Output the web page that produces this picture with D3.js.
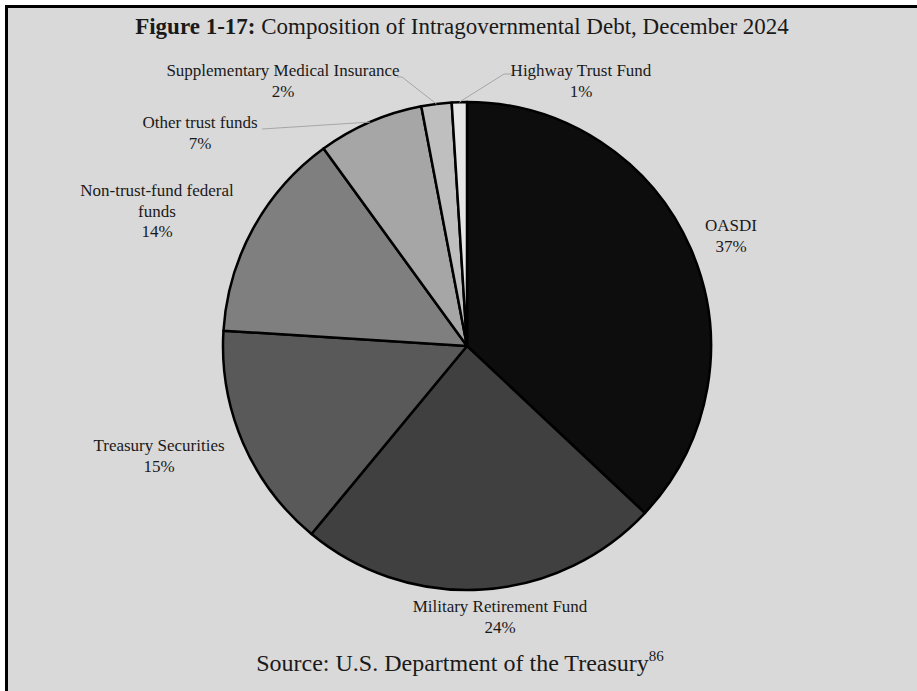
<!DOCTYPE html>
<html>
<head>
<meta charset="utf-8">
<script src="https://cdn.jsdelivr.net/npm/d3@7"></script>
<style>
  html, body { margin: 0; padding: 0; background: #ffffff; }
  svg { display: block; }
  text { font-family: "Liberation Serif", "Times New Roman", serif; fill: #1a1a1a; }
</style>
</head>
<body>
<svg id="chart" width="917" height="691"></svg>
<script>
// Shares of intragovernmental debt, in percent, in clockwise order from 12 o'clock
const categories = [
  "OASDI",
  "Military Retirement Fund",
  "Treasury Securities",
  "Non-trust-fund federal funds",
  "Other trust funds",
  "Supplementary Medical Insurance",
  "Highway Trust Fund"
];
const shares = [37, 24, 15, 14, 7, 2, 1];
const sliceColors = ["#0d0d0d", "#404040", "#595959", "#7f7f7f", "#a6a6a6", "#bfbfbf", "#e6e6e6"];

// Label text broken into lines, and where each label block sits
const labelLines = [
  ["OASDI"],
  ["Military Retirement Fund"],
  ["Treasury Securities"],
  ["Non-trust-fund federal", "funds"],
  ["Other trust funds"],
  ["Supplementary Medical Insurance"],
  ["Highway Trust Fund"]
];
const labelPos = [
  [731, 231], [500, 612], [159, 451], [157, 196], [200, 128], [283, 76], [581, 76]
];
// Leader line start points (label side) for the small slices
const leaderStart = [null, null, null, null, [262, 129], [[397, 77], [402, 77]], [[512, 74], [504, 74]]];

const svg = d3.select("#chart");
const W = 917, H = 691;

// Panel background with a heavy frame on the top and left edges
svg.append("rect").attr("x", 0).attr("y", 0).attr("width", W).attr("height", H).attr("fill", "#ffffff");
svg.append("rect").attr("x", 6.5).attr("y", 6.5).attr("width", W + 20).attr("height", H + 20)
  .attr("fill", "#d9d9d9").attr("stroke", "#000").attr("stroke-width", 3);

// Title
const title = svg.append("text").attr("x", 462).attr("y", 34).attr("text-anchor", "middle")
  .style("font-size", "23px");
title.append("tspan").style("font-weight", "bold").text("Figure 1-17:");
title.append("tspan").text(" Composition of Intragovernmental Debt, December 2024");

// Pie
const cx = 467, cy = 346, R = 244;
const data = categories.map((c, i) => ({ name: c, value: shares[i], i }));
const pie = d3.pie().value(d => d.value).sort(null).startAngle(0).endAngle(2 * Math.PI);
const arcs = pie(data);
const arc = d3.arc().innerRadius(0).outerRadius(R);

const g = svg.append("g").attr("transform", `translate(${cx},${cy})`);
g.selectAll("path.slice").data(arcs).join("path")
  .attr("class", "slice")
  .attr("d", arc)
  .attr("fill", d => sliceColors[d.data.i])
  .attr("stroke", "#000")
  .attr("stroke-width", 2.5)
  .attr("stroke-linejoin", "round");

// Leader lines from labels to slice edges
arcs.forEach(d => {
  const s = leaderStart[d.data.i];
  if (!s) return;
  const mid = (d.startAngle + d.endAngle) / 2;
  const ex = cx + R * Math.sin(mid), ey = cy - R * Math.cos(mid);
  const pts = Array.isArray(s[0]) ? s.concat([[ex, ey]]) : [s, [ex, ey]];
  svg.append("path")
    .attr("d", d3.line()(pts))
    .attr("fill", "none")
    .attr("stroke", "#a6a6a6")
    .attr("stroke-width", 1);
});

// Category labels with percentages
const lineH = 20.5;
data.forEach((d, i) => {
  const [lx, ly] = labelPos[i];
  const lines = labelLines[i].concat([d3.format("d")(d.value) + "%"]);
  const t = svg.append("text").attr("text-anchor", "middle").style("font-size", "17px");
  lines.forEach((ln, k) => {
    t.append("tspan").attr("x", lx).attr("y", ly + k * lineH).text(ln);
  });
});

// Source note
const src = svg.append("text").attr("x", 460).attr("y", 671).attr("text-anchor", "middle")
  .style("font-size", "24px");
src.append("tspan").text("Source: U.S. Department of the Treasury");
src.append("tspan").attr("dy", -10).style("font-size", "15px").text("86");
</script>
</body>
</html>
